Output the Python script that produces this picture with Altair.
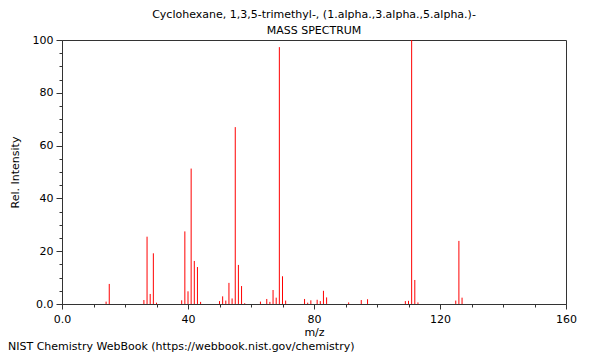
import altair as alt
import pandas as pd

mz = [14, 15, 26, 27, 28, 29, 30, 38, 39, 40, 41, 42, 43, 44, 50, 51, 52, 53, 54, 55,
      56, 57, 58, 63, 65, 66, 67, 68, 69, 70, 71, 77, 78, 79, 81, 82, 83, 84, 91, 95,
      97, 109, 110, 111, 112, 113, 125, 126, 127]
intensity = [0.9, 7.6, 1.5, 25.5, 3.8, 19.2, 0.5, 1.4, 27.5, 4.8, 51.3, 16.3, 14.0, 0.8,
             1.1, 2.9, 1.3, 8.0, 2.1, 67.0, 14.8, 6.8, 0.3, 0.9, 1.9, 0.8, 5.3, 2.4, 97.3,
             10.5, 1.3, 1.9, 0.5, 1.4, 1.6, 1.1, 5.0, 2.5, 0.6, 1.5, 1.8, 1.1, 1.2, 100.0,
             9.1, 0.6, 1.3, 23.9, 2.4]

title_main = "Cyclohexane, 1,3,5-trimethyl-, (1.alpha.,3.alpha.,5.alpha.)-"
title_sub = "MASS SPECTRUM"
footer = "NIST Chemistry WebBook (https://webbook.nist.gov/chemistry)"
x_title = "m/z"
y_title = "Rel. Intensity"

x_major = [0, 40, 80, 120, 160]
x_minor = [10, 20, 30, 50, 60, 70, 90, 100, 110, 130, 140, 150]
y_major = [0, 20, 40, 60, 80, 100]
y_minor = [5, 10, 15, 25, 30, 35, 45, 50, 55, 65, 70, 75, 85, 90, 95]

FONT = "DejaVu Sans"
AXC = "#333333"

df = pd.DataFrame({"mz": mz, "intensity": intensity})
xs = alt.Scale(domain=[0, 160], nice=False, zero=False)
ys = alt.Scale(domain=[0, 100], nice=False)

major = alt.Chart(df).mark_rule(color="#ff0000", strokeWidth=1).encode(
    x=alt.X("mz:Q", scale=xs, axis=alt.Axis(
        values=x_major, orient="bottom", title=x_title, tickSize=5,
        labelExpr="datum.value === 0 ? '0.0' : datum.label",
        labelPadding=4, titlePadding=2, labelFlush=False)),
    y=alt.Y("intensity:Q", scale=ys, axis=alt.Axis(
        values=y_major, orient="left", title=y_title, tickSize=6,
        labelExpr="datum.value === 0 ? '0.0' : datum.label",
        labelPadding=3, titlePadding=12, labelFlush=False)),
    y2=alt.datum(0),
)

minor = alt.Chart(df).mark_rule(opacity=0).encode(
    x=alt.X("mz:Q", scale=xs, axis=alt.Axis(
        values=x_minor, orient="bottom", title=None, labels=False,
        domain=False, tickSize=3)),
    y=alt.Y("intensity:Q", scale=ys, axis=alt.Axis(
        values=y_minor, orient="left", title=None, labels=False,
        domain=False, tickSize=3)),
    y2=alt.datum(0),
)

foot = alt.Chart(pd.DataFrame({"t": [footer]})).mark_text(
    align="left", baseline="middle", font=FONT, fontSize=11, color="black"
).encode(text="t:N", x=alt.value(-54), y=alt.value(307))

chart = alt.layer(major, minor, foot).resolve_axis(
    x="independent", y="independent"
).properties(
    width=504, height=264,
    autosize=alt.AutoSizeParams(type="none"),
    padding={"left": 54, "top": 32, "right": 26, "bottom": 48},
    title=alt.TitleParams(
        text=title_main, subtitle=title_sub, font=FONT, subtitleFont=FONT,
        fontSize=11, subtitleFontSize=11, fontWeight="normal",
        color="black", subtitleColor="black", anchor="middle",
        offset=-2, subtitlePadding=5),
).configure_view(
    stroke=AXC, strokeWidth=1
).configure_axis(
    domainColor=AXC, tickColor=AXC, labelFont=FONT, titleFont=FONT,
    labelFontSize=11, titleFontSize=11, titleFontWeight="normal",
    labelColor="black", titleColor="black", grid=False
)

chart.save("out.html", embed_options={"renderer": "svg", "actions": False})
